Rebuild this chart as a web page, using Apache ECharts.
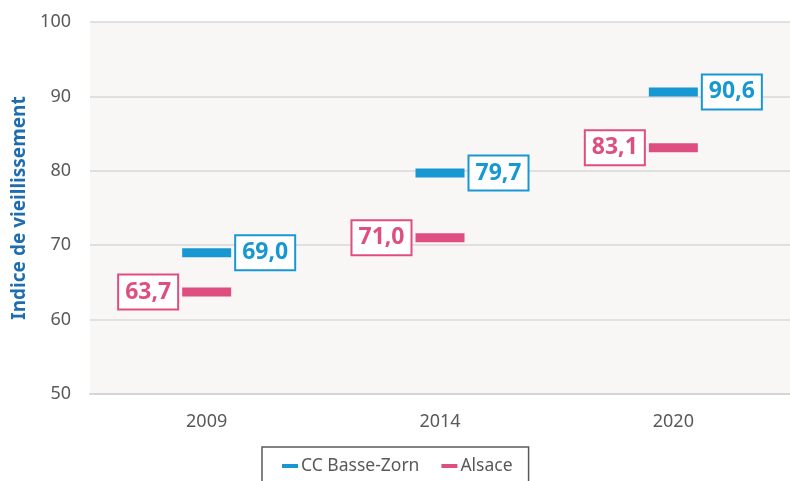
<!DOCTYPE html>
<html>
<head>
<meta charset="utf-8">
<script src="https://cdn.jsdelivr.net/npm/echarts@6/dist/echarts.min.js"></script>
<style>html,body{margin:0;padding:0;background:#fff}#c{width:790px;height:481px}</style>
</head>
<body>
<div id="c"></div>
<script>
const categories = ['2009', '2014', '2020'];
const ccBasseZorn = [69.0, 79.7, 90.6];
const alsace = [63.7, 71.0, 83.1];
const yTicks = [50, 60, 70, 80, 90, 100];
const seriesNames = ['CC Basse-Zorn', 'Alsace'];

const BLUE = '#1898D2';
const PINK = '#DF4E80';
const FONT = '"Noto Sans", "Open Sans", sans-serif';
const fmt = v => v.toFixed(1).replace('.', ',');

const chart = echarts.init(document.getElementById('c'), null, {renderer: 'canvas'});

function labelStyle(color, pos) {
  return {
    show: true,
    position: pos,
    distance: 5,
    formatter: p => fmt(p.value),
    color: color,
    fontFamily: FONT,
    fontWeight: 'bold',
    fontSize: 23,
    backgroundColor: '#fff',
    borderColor: color,
    borderWidth: 2,
    padding: [6, 6, 4, 6]
  };
}

chart.setOption({
  animation: false,
  backgroundColor: '#fff',
  grid: {left: 90, top: 22, width: 702, height: 372, show: true, backgroundColor: '#F8F7F6', borderWidth: 0},
  xAxis: {
    type: 'category',
    data: categories,
    axisLine: {show: true, lineStyle: {color: '#D6D6D6', width: 2}},
    axisTick: {show: false},
    axisLabel: {color: '#595959', fontFamily: FONT, fontSize: 18, margin: 19}
  },
  yAxis: {
    type: 'value',
    min: yTicks[0], max: yTicks[yTicks.length - 1], interval: 10,
    name: 'Indice de vieillissement',
    nameLocation: 'middle',
    nameGap: 61,
    nameTextStyle: {color: '#1F6DB1', fontFamily: FONT, fontWeight: 'bold', fontSize: 19},
    axisLine: {show: false},
    axisTick: {show: false},
    axisLabel: {color: '#595959', fontFamily: FONT, fontSize: 18, margin: 19},
    splitLine: {lineStyle: {color: '#D9D9D9', width: 1.5}}
  },
  legend: {
    left: 262, top: 447,
    padding: [10, 16, 12, 20],
    borderColor: '#595959', borderWidth: 1.5,
    itemWidth: 16, itemHeight: 4, itemGap: 22,
    icon: 'rect',
    textStyle: {color: '#595959', fontFamily: FONT, fontSize: 17.5, padding: [0, 0, 0, -2]},
    data: seriesNames
  },
  series: [
    {
      name: seriesNames[0], type: 'scatter', data: ccBasseZorn,
      symbol: 'rect', symbolSize: [49, 9],
      itemStyle: {color: BLUE, opacity: 1},
      label: labelStyle(BLUE, 'right'),
      z: 3
    },
    {
      name: seriesNames[1], type: 'scatter', data: alsace,
      symbol: 'rect', symbolSize: [49, 9],
      itemStyle: {color: PINK, opacity: 1},
      label: labelStyle(PINK, 'left'),
      z: 3
    }
  ]
});
</script>
</body>
</html>
